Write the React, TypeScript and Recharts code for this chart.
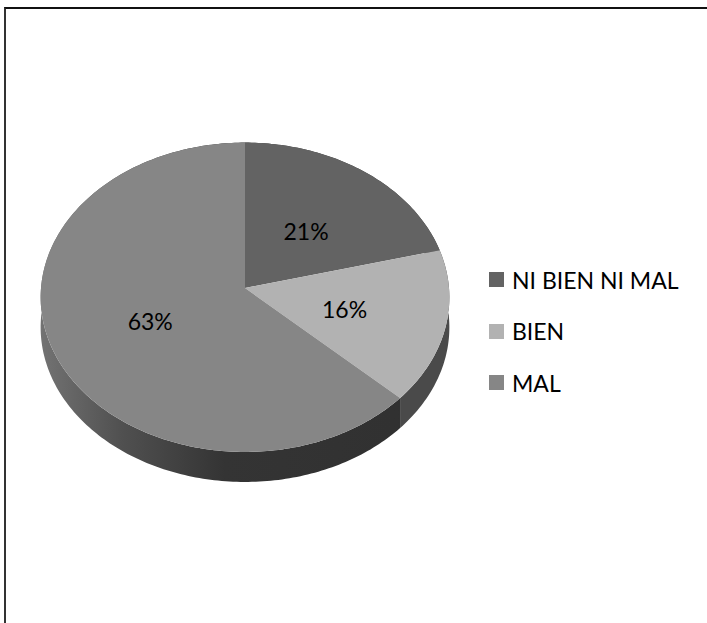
import { PieChart, Pie, Cell, Legend } from 'recharts';

// =============================================================================
// Data
// =============================================================================

const CATEGORIES = ['NI BIEN NI MAL', 'BIEN', 'MAL'];
const VALUES = [21, 16, 63];

const TOP_COLORS = ['#636363', '#b2b2b2', '#868686'];
const WALL_COLORS = ['#3a3a3a', '#4a4a4a', 'url(#wallShade)'];

const chartData = CATEGORIES.map((name, i) => ({ name, value: VALUES[i] }));

// =============================================================================
// Tilted pie helpers
// =============================================================================

const FONT = 'Lato, "Open Sans", sans-serif';
const SQUASH = 0.7555; // vertical squeeze of the disc
const PERSPECTIVE = 0.06; // near edge is drawn a bit larger than the far edge
const DEPTH = 30;

// angle is in recharts degrees (90 = up, going clockwise to the right)
function project(cx: number, cy: number, r: number, angle: number, radius = r) {
  const rad = (angle * Math.PI) / 180;
  const x = Math.cos(rad) * radius;
  const y = -Math.sin(rad) * radius;
  const w = 1 - (PERSPECTIVE * y) / r;
  return { x: cx + x / w, y: cy + (SQUASH * y) / w };
}

function arcPoints(props: any) {
  const { cx, cy, outerRadius, startAngle, endAngle } = props;
  const steps = Math.max(2, Math.ceil(Math.abs(endAngle - startAngle)));
  const points = [];
  for (let i = 0; i <= steps; i++) {
    const angle = startAngle + ((endAngle - startAngle) * i) / steps;
    points.push(project(cx, cy, outerRadius, angle));
  }
  return points;
}

function TopSlice(props: any) {
  const pts = arcPoints(props);
  const d = `M${props.cx},${props.cy} ` + pts.map((p) => `L${p.x},${p.y}`).join(' ') + ' Z';
  return <path d={d} fill={props.fill} stroke="none" />;
}

function WallSlice(props: any) {
  const pts = arcPoints(props);
  const front = pts.map((p) => `${p.x},${p.y}`);
  const back = [...pts].reverse().map((p) => `${p.x},${p.y + DEPTH}`);
  return <path d={`M${front.join(' L')} L${back.join(' L')} Z`} fill={props.fill} stroke="none" />;
}

function SliceLabel(props: any) {
  const { cx, cy, outerRadius, midAngle, value } = props;
  const p = project(cx, cy, outerRadius, midAngle, outerRadius * 0.5);
  return (
    <text
      x={p.x}
      y={p.y + 2}
      textAnchor="middle"
      dominantBaseline="central"
      fontFamily={FONT}
      fontSize={23}
      fill="#000"
    >
      {`${value}%`}
    </text>
  );
}

function LegendList() {
  return (
    <div style={{ fontFamily: FONT, fontSize: 23, color: '#000' }}>
      {CATEGORIES.map((name, i) => (
        <div key={name} style={{ display: 'flex', alignItems: 'center', height: 51.5 }}>
          <span style={{ width: 15, height: 15, background: TOP_COLORS[i], marginRight: 8 }} />
          <span>{name}</span>
        </div>
      ))}
    </div>
  );
}

// =============================================================================
// Component
// =============================================================================

export default function App() {
  return (
    <div style={{ position: 'absolute', left: 0, top: 0, width: 707, height: 623, background: '#fff', overflow: 'hidden' }}>
      <div
        style={{
          position: 'absolute',
          left: 4,
          top: 7,
          width: 703,
          height: 616,
          borderTop: '2px solid #111',
          borderLeft: '2px solid #333',
        }}
      />
      <PieChart width={707} height={623} margin={{ top: 0, right: 0, bottom: 0, left: 0 }} style={{ position: 'absolute', left: 0, top: 0 }}>
        <defs>
          <linearGradient id="wallShade" gradientUnits="userSpaceOnUse" x1="40" y1="0" x2="449" y2="0">
            <stop offset="0" stopColor="#737373" />
            <stop offset="0.2" stopColor="#505050" />
            <stop offset="0.45" stopColor="#343434" />
            <stop offset="1" stopColor="#303030" />
          </linearGradient>
        </defs>
        <Pie
          data={chartData}
          dataKey="value"
          nameKey="name"
          cx={245}
          cy={288}
          outerRadius={204}
          startAngle={90}
          endAngle={-270}
          stroke="none"
          legendType="none"
          shape={WallSlice}
          isAnimationActive={false}
        >
          {chartData.map((d, i) => (
            <Cell key={d.name} fill={WALL_COLORS[i]} />
          ))}
        </Pie>
        <Pie
          data={chartData}
          dataKey="value"
          nameKey="name"
          cx={245}
          cy={288}
          outerRadius={204}
          startAngle={90}
          endAngle={-270}
          stroke="none"
          legendType="square"
          shape={TopSlice}
          label={SliceLabel}
          labelLine={false}
          isAnimationActive={false}
        >
          {chartData.map((d, i) => (
            <Cell key={d.name} fill={TOP_COLORS[i]} />
          ))}
        </Pie>
        <Legend
          layout="vertical"
          align="right"
          verticalAlign="top"
          content={LegendList}
          wrapperStyle={{ left: 489, right: 'auto', top: 254, width: 210 }}
        />
      </PieChart>
    </div>
  );
}
